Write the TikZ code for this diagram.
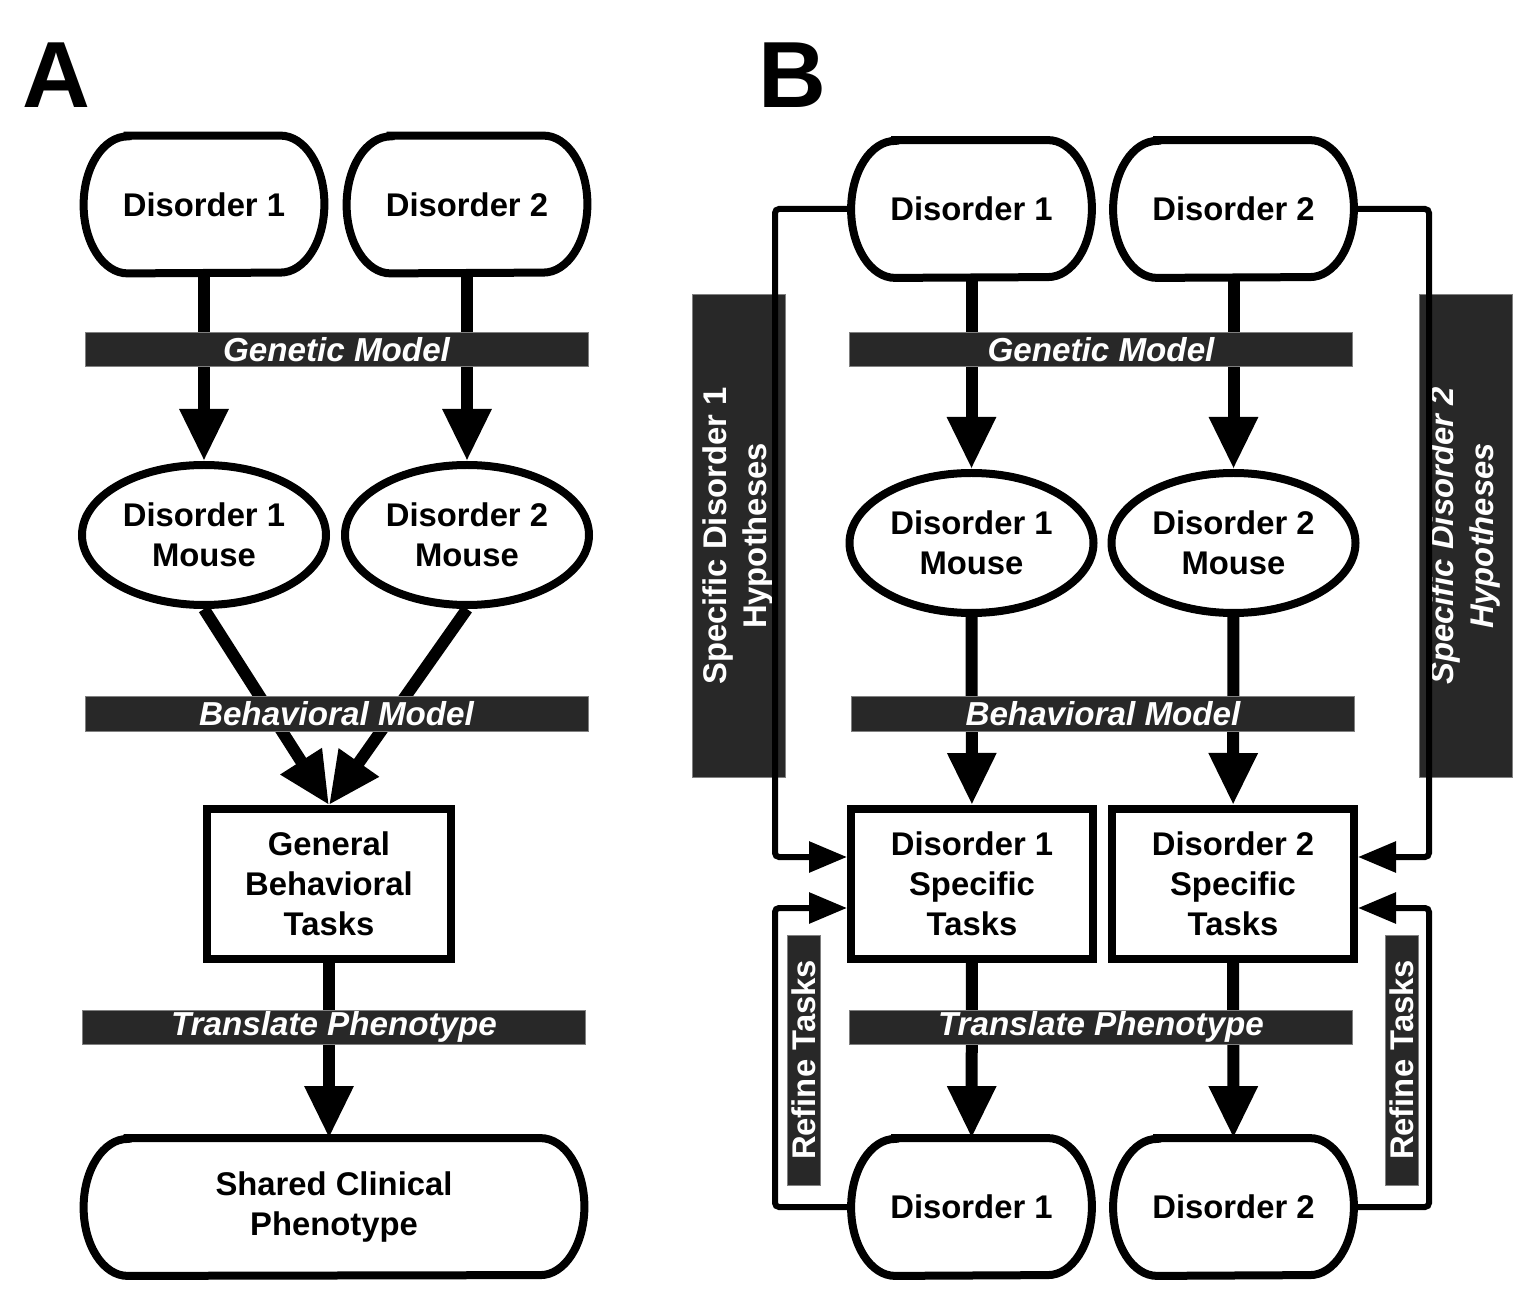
\documentclass[tikz,border=0pt]{standalone}
\usepackage{fontspec}
\setmainfont{Liberation Sans}
\usetikzlibrary{shapes.geometric,arrows.meta}
\definecolor{bandgray}{HTML}{282828}

\tikzset{
  term/.style={rectangle, minimum width=120pt, minimum height=68.5pt,
    align=center, font=\fontsize{16.4}{20}\selectfont\bfseries},
  termline/.style={draw=black, line width=4pt},
  mouse/.style={draw=black, line width=4pt, ellipse, minimum width=122pt,
    minimum height=70pt, inner sep=0pt, align=center,
    font=\fontsize{16.4}{20}\selectfont\bfseries},
  taskbox/.style={draw=black, line width=4pt, rectangle, minimum width=122pt,
    minimum height=75pt, align=center,
    font=\fontsize{16.4}{20}\selectfont\bfseries},
  band/.style={fill=bandgray, draw=gray, line width=0.5pt, inner sep=0pt,
    minimum width=251.5pt, minimum height=17pt, text=white,
    font=\fontsize{16.6}{20}\selectfont\bfseries\itshape},
  sideband/.style={fill=bandgray, draw=gray, line width=0.5pt, inner sep=0pt,
    rotate=90, minimum width=241pt, minimum height=46.5pt, text=white,
    align=center, font=\fontsize{16.4}{20}\selectfont\bfseries},
  refineband/.style={fill=bandgray, draw=gray, line width=0.5pt, inner sep=0pt,
    rotate=90, minimum width=125pt, minimum height=16.5pt, text=white,
    font=\fontsize{16.4}{20}\selectfont\bfseries},
  bigarrow/.style={line width=6pt, -{Triangle[length=26pt,width=23pt]}},
  fbarrow/.style={line width=3pt, rounded corners=2pt,
    -{Triangle[length=19pt,width=15pt]}},
  panel/.style={font=\fontsize{47}{47}\selectfont\bfseries, inner sep=0pt}
}

\begin{document}
\begin{tikzpicture}[x=0.5pt, y=-0.5pt]
  \useasboundingbox (0,0) rectangle (1537,1304);

  % panel letters
  \node[panel, anchor=base] (labA) at (56,108) {A};
  \node[panel, anchor=base] (labB) at (792,108) {B};

  %% panel A
  \node[term] (aD1) at (204,204.5) {Disorder 1};
  \node[term] (aD2) at (467,204.5) {Disorder 2};
  \node[mouse] (aM1) at (204,535) {Disorder 1\\Mouse};
  \node[mouse] (aM2) at (467,535) {Disorder 2\\Mouse};
  \node[taskbox] (aGB) at (329,884) {General\\Behavioral\\Tasks};
  \node[term, minimum width=250pt] (aSC) at (334,1207) {Shared Clinical\\Phenotype};

  \draw[bigarrow] (aD1) -- (aM1);
  \draw[bigarrow] (aD2) -- (aM2);
  \draw[bigarrow] (aM1.south) -- (aGB.north);
  \draw[bigarrow] (aM2.south) -- (aGB.north);
  \draw[bigarrow] (aGB) -- (aGB |- aSC.north);

  \node[band] (aGen) at (336.5,350) {Genetic Model};
  \node[band] (aBeh) at (336.5,714) {Behavioral Model};
  \node[band] (aTra) at (334,1027) {Translate Phenotype};

  %% panel B
  \node[sideband] (bH1) at (738.5,536) {Specific Disorder 1\\Hypotheses};
  \node[sideband, font=\fontsize{16.4}{20}\selectfont\bfseries\itshape] (bH2) at (1465.5,536)
    {Specific Disorder 2\\Hypotheses};
  \node[refineband] (bR1) at (803.5,1060) {Refine Tasks};
  \node[refineband] (bR2) at (1401.5,1060) {Refine Tasks};

  \node[term] (bD1) at (971.5,209) {Disorder 1};
  \node[term] (bD2) at (1233.5,209) {Disorder 2};
  \node[mouse] (bM1) at (971.5,543) {Disorder 1\\Mouse};
  \node[mouse] (bM2) at (1233.5,543) {Disorder 2\\Mouse};
  \node[taskbox, minimum width=121pt] (bT1) at (972,884) {Disorder 1\\Specific\\Tasks};
  \node[taskbox, minimum width=121pt] (bT2) at (1233,884) {Disorder 2\\Specific\\Tasks};
  \node[term] (bP1) at (971.5,1207) {Disorder 1};
  \node[term] (bP2) at (1233.5,1207) {Disorder 2};

  % terminal outlines with elliptical ends
  \foreach \n in {aD1,aD2,aSC,bD1,bD2,bP1,bP2}{
    \draw[termline] ([xshift=22pt]\n.north west) -- ([xshift=-22pt]\n.north east)
      arc[start angle=90, end angle=-90, x radius=22pt, y radius=34.25pt]
      -- ([xshift=22pt]\n.south west)
      arc[start angle=270, end angle=90, x radius=22pt, y radius=34.25pt] -- cycle;
  }

  \coordinate (railL) at (775,0);
  \coordinate (railR) at (1429,0);

  \draw[bigarrow] (bD1) -- (bM1);
  \draw[bigarrow] (bD2) -- (bM2);
  \draw[bigarrow] (bM1) -- (bT1);
  \draw[bigarrow] (bM2) -- (bT2);
  \draw[bigarrow] (bT1) -- (bP1);
  \draw[bigarrow] (bT2) -- (bP2);

  % hypotheses feedback
  \draw[fbarrow] (bD1.west) -- (bD1.west -| railL) |- ([yshift=13.5pt]bT1.west);
  \draw[fbarrow] (bD2.east) -- (bD2.east -| railR) |- ([yshift=13.5pt]bT2.east);
  % refine loops
  \draw[fbarrow] (bP1.west) -- (bP1.west -| railL) |- ([yshift=-12pt]bT1.west);
  \draw[fbarrow] (bP2.east) -- (bP2.east -| railR) |- ([yshift=-12pt]bT2.east);

  \node[band] (bGen) at (1101,350) {Genetic Model};
  \node[band] (bBeh) at (1103,714) {Behavioral Model};
  \node[band] (bTra) at (1101,1027) {Translate Phenotype};
\end{tikzpicture}
\end{document}
